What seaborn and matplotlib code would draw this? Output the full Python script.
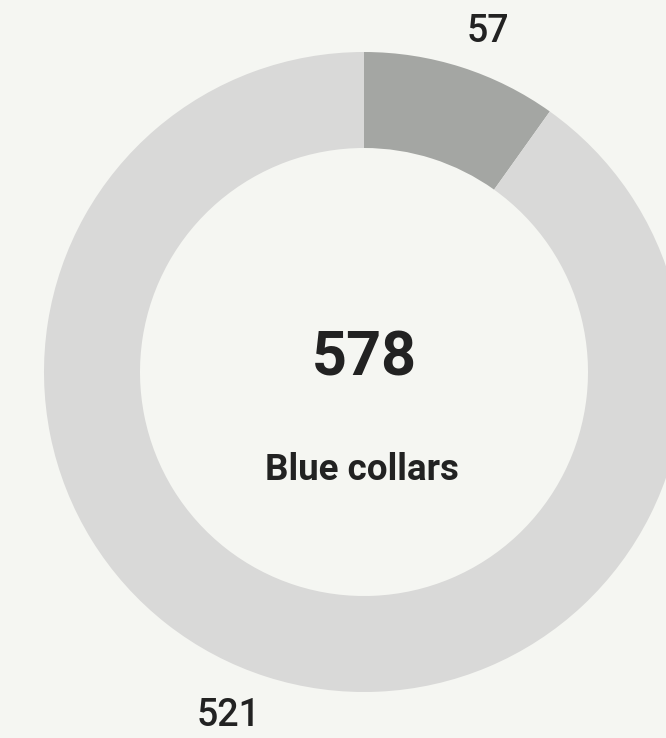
import numpy as np
import matplotlib
matplotlib.use("Agg")
import matplotlib.pyplot as plt
import seaborn as sns

# Data
categories = ["Segment A", "Segment B"]
values = [57, 521]
total_label = "578"
center_caption = "Blue collars"

# Styling
bg = "#f5f6f2"
slice_colors = ["#a4a6a3", "#d9d9d8"]
text_color = "#222222"

sns.set_theme(style="white", rc={"figure.facecolor": bg, "axes.facecolor": bg})
plt.rcParams["font.family"] = ["Roboto", "DejaVu Sans"]

W, H = 666, 738
fig = plt.figure(figsize=(W / 100, H / 100), dpi=100)
ax = fig.add_axes([0, 0, 1, 1])

cx, cy = 364, H - 372
R = 320
ring = 96

wedges, _ = ax.pie(
    values,
    colors=slice_colors,
    startangle=90,
    counterclock=False,
    radius=R,
    center=(cx, cy),
    wedgeprops=dict(width=ring, linewidth=0),
    frame=True,
)
ax.set_xlim(0, W)
ax.set_ylim(0, H)
ax.set_aspect("equal")
ax.axis("off")

# Outside value labels, placed around each wedge's mid angle
nudges = [(13, -7), (-24, 4)]
for w, v, (dx, dy) in zip(wedges, values, nudges):
    mid = np.deg2rad((w.theta1 + w.theta2) / 2)
    lx = cx + 1.14 * R * np.cos(mid) + dx
    ly = cy + 1.14 * R * np.sin(mid) + dy
    ax.text(lx, ly, str(v), ha="center", va="center", fontsize=27,
            fontweight="medium", color=text_color)

ax.text(cx, H - 358, total_label, ha="center", va="center", fontsize=44,
        fontweight="bold", color=text_color)
ax.text(cx - 2, H - 470, center_caption, ha="center", va="center", fontsize=26.5,
        fontweight="bold", color=text_color)

fig.savefig("out.png", dpi=100, facecolor=bg)
